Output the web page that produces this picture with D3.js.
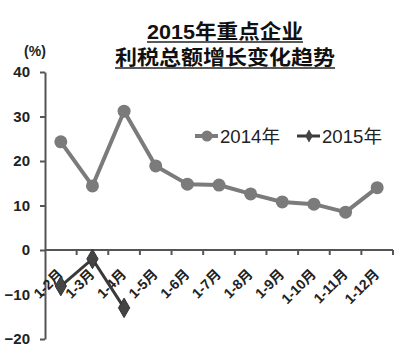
<!DOCTYPE html>
<meta charset="utf-8">
<style>
body { margin: 0; background: #fff; }
text { font-family: "Liberation Sans", Arial, "Noto Sans CJK SC", sans-serif; }
</style>
<body>
<script src="https://d3js.org/d3.v7.min.js"></script>
<script>

// data
var months = ["1-2月", "1-3月", "1-4月", "1-5月", "1-6月", "1-7月", "1-8月", "1-9月", "1-10月", "1-11月", "1-12月"];
var values2014 = [24.3, 14.4, 31.2, 18.9, 14.8, 14.6, 12.6, 10.8, 10.3, 8.5, 14.0];
var values2015 = [-8.1, -2.0, -13.0];
var yTicks = [-20, -10, 0, 10, 20, 30, 40];
var titleLines = ["2015年重点企业", "利税总额增长变化趋势"];
var seriesNames = ["2014年", "2015年"];

var width = 400, height = 355;
var axisColor = "#555";
var c2014 = "#7b7b7b", c2015 = "#3a3a3a";

var svg = d3.select("body").append("svg")
    .attr("width", width)
    .attr("height", height);

// scales
var x = d3.scaleBand().domain(months).range([45, 393]).padding(0);
var y = d3.scaleLinear().domain([-20, 40]).range([339, 72]);
var cx = function(d, i) { return x(months[i]) + x.bandwidth() / 2; };

// title (glyphs are stretched wide in the original)
var titleWidths = [156, 220];
svg.selectAll(".title")
    .data(titleLines)
  .enter().append("text")
    .attr("class", "title")
    .attr("x", 225)
    .attr("y", function(d, i) { return 38.5 + i * 26; })
    .attr("text-anchor", "middle")
    .attr("textLength", function(d, i) { return titleWidths[i]; })
    .attr("lengthAdjust", "spacingAndGlyphs")
    .style("font-size", "20px")
    .style("font-weight", "bold")
    .style("fill", "#111")
    .text(function(d) { return d; });
svg.selectAll(".uline")
    .data(titleLines)
  .enter().append("line")
    .attr("x1", function(d, i) { return 225 - titleWidths[i] / 2; })
    .attr("x2", function(d, i) { return 225 + titleWidths[i] / 2; })
    .attr("y1", function(d, i) { return 42 + i * 26; })
    .attr("y2", function(d, i) { return 42 + i * 26; })
    .style("stroke", "#222")
    .style("stroke-width", 1.5);

// unit label
svg.append("text")
    .attr("x", 35)
    .attr("y", 56)
    .attr("text-anchor", "middle")
    .style("font-size", "14px")
    .style("font-weight", "bold")
    .style("fill", "#222")
    .text("(%)");

// y axis
var yAxis = svg.append("g")
    .attr("transform", "translate(45,0)")
    .call(d3.axisLeft(y).tickValues(yTicks).tickSize(5).tickSizeOuter(0).tickPadding(10));
yAxis.select(".domain").style("stroke", axisColor).style("stroke-width", 2);
yAxis.selectAll(".tick line").style("stroke", axisColor).style("stroke-width", 2);
yAxis.selectAll(".tick text")
    .style("font-size", "15px")
    .style("font-weight", "bold")
    .style("fill", "#222")
    .style("font-family", "Liberation Sans, Arial, sans-serif");

// x axis at zero, ticks on category boundaries
var y0 = y(0);
svg.append("line")
    .attr("x1", x.range()[0]).attr("x2", x.range()[1])
    .attr("y1", y0).attr("y2", y0)
    .style("stroke", axisColor).style("stroke-width", 2);
var bounds = months.map(function(m) { return x(m); }).concat([x.range()[1]]);
svg.selectAll(".xtick")
    .data(bounds.slice(1))
  .enter().append("line")
    .attr("x1", function(d) { return d; }).attr("x2", function(d) { return d; })
    .attr("y1", y0).attr("y2", y0 + 5)
    .style("stroke", axisColor).style("stroke-width", 2);

svg.selectAll(".xlabel")
    .data(months)
  .enter().append("text")
    .attr("text-anchor", "end")
    .attr("transform", function(d, i) {
      return "translate(" + (cx(d, i) + 3) + "," + 275 + ") rotate(-45)";
    })
    .style("font-size", "14px")
    .style("font-weight", "bold")
    .style("fill", "#222")
    .text(function(d) { return d; });

// 2014 series
var line = d3.line().x(cx).y(function(d) { return y(d); });
svg.append("path")
    .datum(values2014)
    .attr("d", line)
    .style("fill", "none")
    .style("stroke", c2014)
    .style("stroke-width", 4)
    .style("stroke-linejoin", "round");
svg.selectAll(".dot14")
    .data(values2014)
  .enter().append("circle")
    .attr("cx", cx)
    .attr("cy", function(d) { return y(d); })
    .attr("r", 6.5)
    .style("fill", c2014);

// 2015 series
svg.append("path")
    .datum(values2015)
    .attr("d", line)
    .style("fill", "none")
    .style("stroke", c2015)
    .style("stroke-width", 3);
var diamond = d3.symbol().type(d3.symbolDiamond).size(110);
svg.selectAll(".dot15")
    .data(values2015)
  .enter().append("path")
    .attr("d", diamond)
    .attr("transform", function(d, i) { return "translate(" + cx(d, i) + "," + y(d) + ")"; })
    .style("fill", "#444")
    .style("stroke", "#333");

// legend
var legend = [
  {name: seriesNames[0], x: 195, color: c2014, w: 4},
  {name: seriesNames[1], x: 297, color: c2015, w: 3}
];
var lg = svg.selectAll(".legend")
    .data(legend)
  .enter().append("g")
    .attr("transform", function(d) { return "translate(" + d.x + ",136)"; });
lg.append("line")
    .attr("x1", 0).attr("x2", 23)
    .style("stroke", function(d) { return d.color; })
    .style("stroke-width", function(d) { return d.w; });
lg.filter(function(d, i) { return i === 0; }).append("circle")
    .attr("cx", 12).attr("r", 5.5).style("fill", c2014);
lg.filter(function(d, i) { return i === 1; }).append("path")
    .attr("d", d3.symbol().type(d3.symbolDiamond).size(50))
    .attr("transform", "translate(12,0)")
    .style("fill", "#444");
lg.append("text")
    .attr("x", 25)
    .attr("y", 7)
    .attr("textLength", 60)
    .attr("lengthAdjust", "spacingAndGlyphs")
    .style("font-size", "18px")
    .style("fill", "#222")
    .text(function(d) { return d.name; });

</script>
</body>
